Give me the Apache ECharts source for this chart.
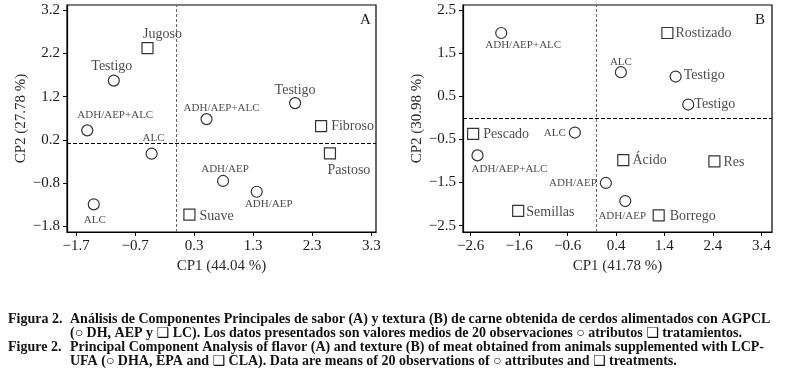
<!DOCTYPE html>
<html>
<head>
<meta charset="utf-8">
<script src="https://cdn.jsdelivr.net/npm/echarts@6/dist/echarts.min.js"></script>
<style>
  html, body { margin: 0; padding: 0; background: #fff; }
  #chart { width: 789px; height: 384px; }
</style>
</head>
<body>
<div id="chart"></div>
<script>
// Panel A (sabor) - circles = tratamientos, squares = atributos
var aCircNames = ['Testigo', 'ADH/AEP+ALC', 'ALC', 'ALC', 'ADH/AEP+ALC', 'Testigo', 'ADH/AEP', 'ADH/AEP']
var aCircX = [-1.06, -1.51, -0.42, -1.40, 0.51, 2.01, 0.79, 1.36]
var aCircY = [1.57, 0.42, -0.12, -1.29, 0.68, 1.05, -0.75, -1.00]
var aSqNames = ['Jugoso', 'Fibroso', 'Pastoso', 'Suave']
var aSqX = [-0.49, 2.45, 2.60, 0.22]
var aSqY = [2.32, 0.52, -0.11, -1.53]

// Panel B (textura)
var bCircNames = ['ADH/AEP+ALC', 'ALC', 'Testigo', 'Testigo', 'ALC', 'ADH/AEP+ALC', 'ADH/AEP', 'ADH/AEP']
var bCircX = [-1.97, 0.50, 1.63, 1.89, -0.45, -2.46, 0.19, 0.59]
var bCircY = [1.97, 1.06, 0.96, 0.31, -0.34, -0.87, -1.51, -1.93]
var bSqNames = ['Rostizado', 'Pescado', 'Ácido', 'Res', 'Semillas', 'Borrego']
var bSqX = [1.46, -2.55, 0.55, 2.43, -1.62, 1.28]
var bSqY = [1.97, -0.37, -0.98, -1.01, -2.16, -2.26]

// tick labels
var aXTicks = [-1.7, -0.7, 0.3, 1.3, 2.3, 3.3]
var aYTicks = [-1.8, -0.8, 0.2, 1.2, 2.2, 3.2]
var bXTicks = [-2.6, -1.6, -0.6, 0.4, 1.4, 2.4, 3.4]
var bYTicks = [-2.5, -1.5, -0.5, 0.5, 1.5, 2.5]

// where the labels sit (position, dx, dy)
var aCircLab = [['top', -2, 3], ['top', 28, 0], ['top', 2, 0], ['bottom', 1, 0], ['top', 15, 5], ['top', 0, 4], ['top', 2, 4], ['bottom', 12, -3]]
var aSqLab = [['top', 15, 3], ['right', 0, 0], ['bottom', 19, 0], ['right', 0, 2]]
var bCircLab = [['bottom', 22, -3], ['top', 0, 5], ['right', -2, -1], ['right', -4, 0], ['left', 1, 1], ['bottom', 32, -2], ['left', 1, 0], ['bottom', -3, -1]]
var bSqLab = [['right', -2, 0], ['right', 0, 0], ['right', -1, 0], ['right', -1, 1], ['right', -2, 1], ['right', 1, 1]]

var serif = 'Liberation Serif'
var ink = '#1a1a1a'
var capFont = 'bold 14px "Liberation Serif", "DejaVu Sans"'

function fmt(v) {
	return (v < 0 ? '\u2212' : '') + Math.abs(v).toFixed(1)
}

function axis(gi, min, max, ticks, name, gap, rot) {
	return {
		type: 'value', gridIndex: gi, min: min, max: max,
		name: name, nameLocation: 'middle', nameGap: gap, nameRotate: rot,
		nameTextStyle: { fontFamily: serif, fontSize: 15, color: '#2a2a2a' },
		axisLine: { show: true, onZero: false, lineStyle: { color: '#000', width: 1.2 } },
		axisTick: { show: true, length: 4, customValues: ticks, lineStyle: { color: '#000' } },
		axisLabel: { customValues: ticks, formatter: fmt, margin: 7, fontFamily: serif, fontSize: 15, color: ink },
		splitLine: { show: false }
	}
}

function pts(xs, ys, names, lab) {
	return xs.map(function (x, i) {
		var small = names[i] === names[i].toUpperCase()
		return {
			value: [x, ys[i]],
			name: names[i],
			label: {
				show: true, formatter: names[i], position: lab[i][0], offset: [lab[i][1], lab[i][2]],
				distance: 4, fontFamily: serif, fontSize: small ? 11 : 14, color: ink
			}
		}
	})
}

function scatter(gi, sym, data, lines) {
	var s = {
		type: 'scatter', xAxisIndex: gi, yAxisIndex: gi, symbol: sym, symbolSize: 11,
		itemStyle: { color: 'rgba(255,255,255,0)', borderColor: '#000', borderWidth: 1.2 },
		data: data, silent: true, z: 5
	}
	if (lines) {
		s.markLine = {
			silent: true, symbol: 'none', label: { show: false }, animation: false,
			data: lines
		}
	}
	return s
}

function refLines(vx, hy) {
	return [
		{ xAxis: vx, lineStyle: { color: '#666', type: [3, 2], width: 1 } },
		{ yAxis: hy, lineStyle: { color: '#000', type: [4, 2], width: 1 } }
	]
}

var myChart = echarts.init(document.getElementById('chart'), null, { renderer: 'canvas' })
var option = {
	animation: false,
	backgroundColor: '#fff',
	grid: [
		{ left: 67, top: 5, width: 309, height: 227, show: true, borderColor: '#000', borderWidth: 1.2, containLabel: false },
		{ left: 463, top: 5, width: 309, height: 227, show: true, borderColor: '#000', borderWidth: 1.2, containLabel: false }
	],
	xAxis: [
		axis(0, -1.853, 3.38, aXTicks, 'CP1 (44.04 %)', 26, 0),
		axis(1, -2.759, 3.619, bXTicks, 'CP1 (41.78 %)', 26, 0)
	],
	yAxis: [
		axis(0, -1.93, 3.318, aYTicks, 'CP2 (27.78 %)', 38, 90),
		axis(1, -2.648, 2.62, bYTicks, 'CP2 (30.98 %)', 38, 90)
	],
	series: [
		scatter(0, 'circle', pts(aCircX, aCircY, aCircNames, aCircLab), refLines(0, 0.12)),
		scatter(0, 'rect', pts(aSqX, aSqY, aSqNames, aSqLab)),
		scatter(1, 'circle', pts(bCircX, bCircY, bCircNames, bCircLab), refLines(0, 0)),
		scatter(1, 'rect', pts(bSqX, bSqY, bSqNames, bSqLab))
	],
	graphic: [
		{ type: 'text', left: 360, top: 13, style: { text: 'A', font: '15px "Liberation Serif"', fill: ink } },
		{ type: 'text', left: 755, top: 13, style: { text: 'B', font: '15px "Liberation Serif"', fill: ink } },
		{ type: 'text', left: 8, top: 312, style: { text: 'Figura 2.', font: capFont, fill: '#111' } },
		{ type: 'text', left: 70, top: 312, style: { text: 'Análisis de Componentes Principales de sabor (A) y textura (B) de carne obtenida de cerdos alimentados con AGPCL', font: capFont, fill: '#111' } },
		{ type: 'text', left: 70, top: 326, style: { text: '(\u25CB DH, AEP y \u2751 LC). Los datos presentados son valores medios de 20 observaciones \u25CB atributos \u2751 tratamientos.', font: capFont, fill: '#111' } },
		{ type: 'text', left: 8, top: 340, style: { text: 'Figure 2.', font: capFont, fill: '#111' } },
		{ type: 'text', left: 70, top: 340, style: { text: 'Principal Component Analysis of flavor (A) and texture (B) of meat obtained from animals supplemented with LCP-', font: capFont, fill: '#111' } },
		{ type: 'text', left: 70, top: 354, style: { text: 'UFA (\u25CB DHA, EPA and \u2751 CLA). Data are means of 20 observations of \u25CB attributes and \u2751 treatments.', font: capFont, fill: '#111' } }
	]
}
myChart.setOption(option)
window.onresize = function () {
	myChart.resize()
}
</script>
</body>
</html>
